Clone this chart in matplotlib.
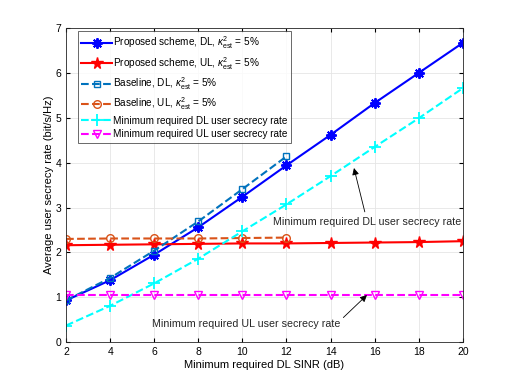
import matplotlib
matplotlib.use("Agg")
import matplotlib.pyplot as plt

plt.rcParams['font.family'] = ['Liberation Sans', 'DejaVu Sans']
plt.rcParams['mathtext.fontset'] = 'custom'
plt.rcParams['mathtext.rm'] = 'Liberation Sans'
plt.rcParams['mathtext.it'] = 'Liberation Sans:italic'

sinr = [2, 4, 6, 8, 10, 12, 14, 16, 18, 20]
sinr_base = [2, 4, 6, 8, 10, 12]
prop_dl = [0.93, 1.38, 1.95, 2.56, 3.24, 3.94, 4.62, 5.33, 6.00, 6.67]
prop_ul = [2.16, 2.17, 2.18, 2.19, 2.20, 2.20, 2.21, 2.22, 2.23, 2.25]
base_dl = [0.93, 1.43, 2.04, 2.69, 3.41, 4.14]
base_ul = [2.30, 2.31, 2.31, 2.31, 2.32, 2.33]
min_dl = [0.37, 0.81, 1.31, 1.86, 2.47, 3.07, 3.70, 4.35, 4.99, 5.66]
min_ul = [1.05, 1.05, 1.05, 1.05, 1.05, 1.05, 1.05, 1.05, 1.05, 1.05]

labels = [r'Proposed scheme, DL, $\kappa^2_{\rm est}$ = 5%',
          r'Proposed scheme, UL, $\kappa^2_{\rm est}$ = 5%',
          r'Baseline, DL, $\kappa^2_{\rm est}$ = 5%',
          r'Baseline, UL, $\kappa^2_{\rm est}$ = 5%',
          'Minimum required DL user secrecy rate',
          'Minimum required UL user secrecy rate']

fig = plt.figure(figsize=(5.12, 3.84), dpi=100)
ax = fig.add_axes([0.129, 0.109, 0.775, 0.818])

c_bdl = (0, 0.447, 0.741)
c_bul = (0.85, 0.325, 0.098)

ax.plot(sinr, prop_dl, '-', color='blue', lw=1.5, marker=(8, 2, 0), ms=7.5, mew=1.4, label=labels[0])
ax.plot(sinr, prop_ul, '-', color='red', lw=1.5, marker='*', ms=8.5, label=labels[1])
ax.plot(sinr_base, base_dl, '--', color=c_bdl, lw=1.5, marker='s', ms=5, mfc='none', mew=1.0, label=labels[2])
ax.plot(sinr_base, base_ul, '--', color=c_bul, lw=1.5, marker='o', ms=5.5, mfc='none', mew=1.0, label=labels[3])
ax.plot(sinr, min_dl, '--', color='cyan', lw=1.5, marker='+', ms=8, mew=1.3, label=labels[4])
ax.plot(sinr, min_ul, '--', color='magenta', lw=1.5, marker='v', ms=6, mfc='none', mew=1.0, label=labels[5])

ax.set_xlim(2, 20)
ax.set_ylim(0, 7)
ax.set_xticks(sinr)
ax.set_yticks(range(8))
ax.tick_params(direction='in', labelsize=7.5, length=3, top=True, right=True, labeltop=False, labelright=False)
ax.grid(True, color='#e5e5e5', lw=0.6)
ax.set_axisbelow(True)
for s in ax.spines.values():
    s.set_color('#262626')
    s.set_linewidth(0.6)
ax.set_xlabel('Minimum required DL SINR (dB)', fontsize=8, labelpad=2)
ax.set_ylabel('Average user secrecy rate (bit/s/Hz)', fontsize=8, labelpad=1)

leg = ax.legend(loc='upper left', bbox_to_anchor=(0.03, 0.99), fontsize=7.2, frameon=True,
                fancybox=False, edgecolor='#262626', handlelength=3.1, handletextpad=0.1,
                borderpad=0.35, labelspacing=0.35, borderaxespad=0.0)
leg.get_frame().set_linewidth(0.6)

ax.annotate('Minimum required DL user secrecy rate', xy=(15.06, 3.88), xytext=(15.67, 2.67),
            fontsize=7.7, ha='center', va='center', color='#262626',
            arrowprops=dict(arrowstyle='-|>', color='black', lw=0.6, shrinkA=2, shrinkB=0,
                            mutation_scale=10))
ax.annotate('Minimum required UL user secrecy rate', xy=(15.65, 1.05), xytext=(10.18, 0.40),
            fontsize=7.7, ha='center', va='center', color='#262626',
            arrowprops=dict(arrowstyle='-|>', color='black', lw=0.6, shrinkA=0, shrinkB=0,
                            mutation_scale=10, relpos=(1.0, 0.9)))

fig.savefig('out.png', dpi=100)
